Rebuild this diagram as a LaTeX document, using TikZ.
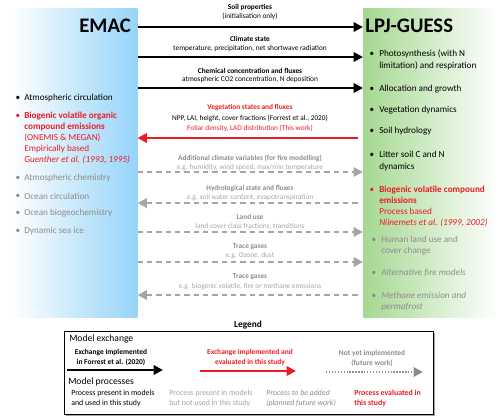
\documentclass[tikz,border=0pt]{standalone}
\usepackage{fontspec}
\setmainfont{Carlito}
\usetikzlibrary{arrows.meta}
\definecolor{myred}{RGB}{236,28,36}
\definecolor{dgray}{RGB}{140,140,140}
\definecolor{lgray}{RGB}{165,165,165}
\definecolor{emacblue}{RGB}{150,212,248}
\definecolor{lpjgreen}{RGB}{165,216,145}
\tikzset{
  lbl/.style={font=\fontsize{5.5}{6}\selectfont, inner sep=0pt},
  lblb/.style={font=\fontsize{5.5}{6}\selectfont\bfseries, inner sep=0pt},
  item/.style={anchor=west, align=left, inner sep=0pt, font=\fontsize{6.9}{8.8}\selectfont},
  bul/.style={anchor=center, inner sep=0pt, font=\fontsize{6.9}{8}\selectfont},
  solidarr/.style={line width=1.6pt, -{Triangle[length=7pt,width=7pt]}},
  dasharr/.style={line width=1.6pt, lgray, dash pattern=on 4pt off 3pt, -{Triangle[length=7pt,width=7pt]}},
  legtxt/.style={align=left, anchor=west, inner sep=0pt, font=\fontsize{5.9}{7.5}\selectfont},
}
\begin{document}
\begin{tikzpicture}[x=0.75pt,y=-0.75pt]
\useasboundingbox (0,0) rectangle (500,419);
% model boxes
\node[draw=none, left color=white, right color=emacblue, minimum width=127*0.75pt, minimum height=309*0.75pt, anchor=north west, inner sep=0pt] (emac) at (10,8) {};
\node[draw=none, left color=lpjgreen, right color=white, minimum width=134*0.75pt, minimum height=309*0.75pt, anchor=north west, inner sep=0pt] (lpj) at (363,8) {};
\node[anchor=east, inner sep=0pt, font=\fontsize{15.5}{16}\selectfont\bfseries] (emact) at (131,26) {EMAC};
\node[anchor=west, inner sep=0pt, font=\fontsize{15.5}{16}\selectfont\bfseries] (lpjt) at (365,26) {LPJ-GUESS};

% EMAC items
\node[bul] (eb1) at (18,98) {•};
\node[item] (ei1) at (24,98) {Atmospheric circulation};
\node[bul, text=myred] (eb2) at (18,116) {•};
\node[item, text=myred, font=\fontsize{6.9}{8.3}\selectfont] (ei2) at (24,138) {\textbf{Biogenic volatile organic}\\\textbf{compound emissions}\\(ONEMIS \& MEGAN)\\Empirically based\\\textit{Guenther et al. (1993, 1995)}};
\node[bul, text=dgray] (eb3) at (18,178) {•};
\node[item, text=dgray] (ei3) at (24,178) {Atmospheric chemistry};
\node[bul, text=dgray] (eb4) at (18,196) {•};
\node[item, text=dgray] (ei4) at (24,196) {Ocean circulation};
\node[bul, text=dgray] (eb5) at (18,213) {•};
\node[item, text=dgray] (ei5) at (24,213) {Ocean biogeochemistry};
\node[bul, text=dgray] (eb6) at (18,231) {•};
\node[item, text=dgray] (ei6) at (24,231) {Dynamic sea ice};

% LPJ items
\node[bul] (lb1) at (372,54) {•};
\node[item] (li1) at (379,60) {Photosynthesis (with N\\limitation) and respiration};
\node[bul] (lb2) at (372,89) {•};
\node[item] (li2) at (379,89) {Allocation and growth};
\node[bul] (lb3) at (372,110) {•};
\node[item] (li3) at (379,110) {Vegetation dynamics};
\node[bul] (lb4) at (372,131) {•};
\node[item] (li4) at (379,131) {Soil hydrology};
\node[bul] (lb5) at (372,155) {•};
\node[item] (li5) at (379,161) {Litter soil C and N\\dynamics};
\node[bul, text=myred] (lb6) at (372,190) {•};
\node[item, text=myred, font=\fontsize{6.9}{8.3}\selectfont] (li6) at (379,206.5) {\textbf{Biogenic volatile compound}\\\textbf{emissions}\\Process based\\\textit{Niinemets et al. (1999, 2002)}};
\node[bul, text=dgray] (lb7) at (374,240) {•};
\node[item, text=dgray] (li7) at (381,245.5) {Human land use and\\cover change};
\node[bul, text=dgray] (lb8) at (374,273) {•};
\node[item, text=dgray] (li8) at (381,273) {\textit{Alternative fire models}};
\node[bul, text=dgray] (lb9) at (374,296) {•};
\node[item, text=dgray] (li9) at (381,301.5) {\textit{Methane emission and}\\\textit{permafrost}};

% connector end points
\foreach \n/\y in {1/27,2/57,3/88,4/138,5/172,6/203,7/232,8/262,9/295}{
  \coordinate (a\n) at (emac.east |- 0,\y);
  \coordinate (b\n) at (lpj.west |- 0,\y);
}
\draw[solidarr] (a1) -- (b1);
\draw[solidarr] (a2) -- (b2);
\draw[solidarr] (a3) -- (b3);
\draw[solidarr, myred] ([xshift=-4pt]b4) -- (a4);
\draw[dasharr] (a5) -- (b5);
\draw[dasharr] ([xshift=-4pt]b6) -- (a6);
\draw[dasharr] (a7) -- (b7);
\draw[dasharr] (a8) -- (b8);
\draw[dasharr] ([xshift=-4pt]b9) -- (a9);

% arrow labels
\node[lblb] (t1a) at (250,7) {Soil properties};
\node[lbl] (t1b) at (250,16) {(initialisation only)};
\node[lblb] (t2a) at (250,39) {Climate state};
\node[lbl] (t2b) at (250,49) {temperature, precipitation, net shortwave radiation};
\node[lblb] (t3a) at (250,71) {Chemical concentration and fluxes};
\node[lbl] (t3b) at (250,80) {atmospheric CO2 concentration, N deposition};
\node[lblb, text=myred] (t4a) at (250,108) {Vegetation states and fluxes};
\node[lbl] (t4b) at (250,118) {NPP, LAI, height, cover fractions (Forrest et al., 2020)};
\node[lbl, text=myred] (t4c) at (250,128) {Foliar density, LAD distribution (This work)};
\node[lblb, text=dgray] (t5a) at (250,158) {Additional climate variables (for fire modelling)};
\node[lbl, text=lgray] (t5b) at (250,168) {e.g. humidity, wind speed, max/min temperature};
\node[lblb, text=dgray] (t6a) at (250,189) {Hydrological state and fluxes};
\node[lbl, text=lgray] (t6b) at (250,198) {e.g. soil water content, evapotranspiration};
\node[lblb, text=dgray] (t7a) at (250,217) {Land use};
\node[lbl, text=lgray] (t7b) at (250,226) {land cover class fractions, transitions};
\node[lblb, text=dgray] (t8a) at (250,247) {Trace gases};
\node[lbl, text=lgray] (t8b) at (250,256) {e.g. Ozone, dust};
\node[lblb, text=dgray] (t9a) at (250,277) {Trace gases};
\node[lbl, text=lgray] (t9b) at (250,287) {e.g. biogenic volatile, fire or methane emissions};

% legend
\node[inner sep=0pt, font=\fontsize{7}{8}\selectfont\bfseries] (legt) at (248,325) {Legend};
\fill[gray!70] (66,333) rectangle (435,416);
\node[draw, fill=white, line width=1pt, minimum width=369*0.75pt, minimum height=83*0.75pt, anchor=north west, inner sep=0pt] (legbox) at (64,331) {};
\node[anchor=west, inner sep=0pt, font=\fontsize{7.2}{8}\selectfont] (lme) at (69,339) {Model exchange};
\node[align=center, inner sep=0pt, font=\fontsize{5.6}{7}\selectfont\bfseries] (lx1) at (111,357.5) {Exchange implemented\\in Forrest et al. (2020)};
\coordinate (lx1s) at (67,370);
\coordinate (lx1e) at (163,370);
\draw[solidarr] (lx1s) -- (lx1e);
\node[align=center, inner sep=0pt, text=myred, font=\fontsize{5.6}{7}\selectfont\bfseries] (lx2) at (250,357.5) {Exchange implemented and\\evaluated in this study};
\coordinate (lx2s) at (200,371);
\coordinate (lx2e) at (296,371);
\draw[solidarr, myred, line width=2pt] (lx2s) -- (lx2e);
\node[align=center, inner sep=0pt, text=dgray, font=\fontsize{5.6}{7}\selectfont\bfseries] (lx3) at (372,358.5) {Not yet implemented\\(future work)};
\coordinate (lx3s) at (326,372);
\coordinate (lx3e) at (423,372);
\draw[line width=1.6pt, dgray, dash pattern=on 1pt off 1.2pt, -{Triangle[length=7pt,width=7pt]}] (lx3s) -- (lx3e);
\node[anchor=west, inner sep=0pt, font=\fontsize{7.2}{8}\selectfont] (lmp) at (68,382) {Model processes};
\node[legtxt] (lp1) at (71,398) {Process present in models\\and used in this study};
\node[legtxt, text=lgray] (lp2) at (169,398) {Process present in models\\but not used in this study};
\node[legtxt, text=dgray, font=\fontsize{5.9}{7.5}\selectfont\itshape] (lp3) at (266,398) {Process to be added\\(planned future work)};
\node[legtxt, text=myred, font=\fontsize{5.9}{7.5}\selectfont\bfseries] (lp4) at (354,398) {Process evaluated in\\this study};
\end{tikzpicture}
\end{document}
